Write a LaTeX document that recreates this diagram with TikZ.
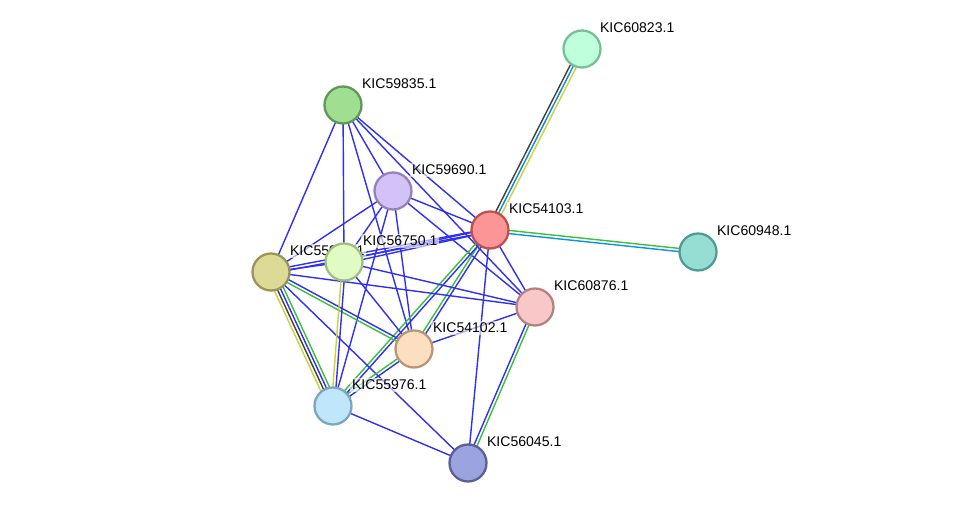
\documentclass[tikz,border=0pt]{standalone}
\usepackage{fontspec}
\setmainfont{Liberation Sans}
\usetikzlibrary{calc,backgrounds}
\definecolor{eblue}{RGB}{48,48,240}
\definecolor{egreen}{RGB}{60,190,60}
\definecolor{eyellow}{RGB}{200,210,60}
\tikzstyle{prot}=[circle,minimum size=0.74cm,inner sep=0pt,line width=1.3pt]
\tikzstyle{annot}=[anchor=south west,inner sep=1pt,fill=white,fill opacity=0.6,text opacity=1,font=\fontsize{8}{9}\selectfont]
\tikzstyle{lnk}=[line width=0.8pt]
\newcommand{\pedge}[3]
{
  % #1,#2 node names, #3 list of offset/colour pairs
  \foreach \o/\c in {#3}
    \draw[lnk,\c] ($(#1)!\o pt!90:(#2)$) -- ($(#2)!\o pt!-90:(#1)$);
}

\begin{document}
\begin{tikzpicture}[x=0.02cm,y=-0.02cm]
	\useasboundingbox (0,0) rectangle (975,509);

	\node[prot, fill={rgb,255:red,192;green,255;blue,220}, draw={rgb,255:red,120;green,190;blue,150}] (p60823) at (582,49){};
	\node[prot, fill={rgb,255:red,160;green,222;blue,146}, draw={rgb,255:red,96;green,150;blue,90}] (p59835) at (343,105){};
	\node[prot, fill={rgb,255:red,210;green,194;blue,248}, draw={rgb,255:red,150;green,130;blue,180}] (p59690) at (393,191){};
	\node[prot, fill={rgb,255:red,252;green,150;blue,150}, draw={rgb,255:red,190;green,80;blue,80}] (p54103) at (490,230){};
	\node[prot, fill={rgb,255:red,150;green,222;blue,212}, draw={rgb,255:red,80;green,155;blue,148}] (p60948) at (698,252){};
	\node[prot, fill={rgb,255:red,220;green,218;blue,150}, draw={rgb,255:red,150;green,150;blue,90}] (p55981) at (271,272){};
	\node[prot, fill={rgb,255:red,224;green,252;blue,196}, draw={rgb,255:red,160;green,190;blue,130}] (p56750) at (344,262){};
	\node[prot, fill={rgb,255:red,248;green,200;blue,200}, draw={rgb,255:red,180;green,130;blue,130}] (p60876) at (535,307){};
	\node[prot, fill={rgb,255:red,252;green,222;blue,192}, draw={rgb,255:red,185;green,150;blue,120}] (p54102) at (414,349){};
	\node[prot, fill={rgb,255:red,192;green,230;blue,252}, draw={rgb,255:red,125;green,165;blue,190}] (p55976) at (333,406){};
	\node[prot, fill={rgb,255:red,156;green,164;blue,224}, draw={rgb,255:red,90;green,95;blue,150}] (p56045) at (468,463){};

	\begin{scope}[on background layer]
	\pedge{p59835}{p55981}{0/eblue}
	\pedge{p59835}{p56750}{0/eblue}
	\pedge{p59835}{p59690}{0/eblue}
	\pedge{p59835}{p54103}{0/eblue}
	\pedge{p59835}{p60876}{0/eblue}
	\pedge{p59835}{p54102}{0/eblue}
	\pedge{p59690}{p55981}{0/eblue}
	\pedge{p59690}{p56750}{0/eblue}
	\pedge{p59690}{p54103}{0/eblue}
	\pedge{p59690}{p60876}{0/eblue}
	\pedge{p59690}{p54102}{0/eblue}
	\pedge{p59690}{p55976}{0/eblue}
	\pedge{p54103}{p55981}{-0.9/eblue,0.9/eblue}
	\pedge{p54103}{p56750}{-0.9/eblue,0.9/eblue}
	\pedge{p54103}{p54102}{-0.9/egreen,0.9/eblue}
	\pedge{p54103}{p55976}{-0.9/egreen,0.9/eblue}
	\pedge{p54103}{p60876}{0/eblue}
	\pedge{p54103}{p56045}{0/eblue}
	\pedge{p54103}{p60823}{-1.8/eyellow,0/cyan!70!blue,1.8/black!75}
	\pedge{p54103}{p60948}{-0.9/cyan!80!blue,0.9/egreen}
	\pedge{p55981}{p56750}{0/eblue}
	\pedge{p55981}{p60876}{0/eblue}
	\pedge{p55981}{p54102}{-0.9/egreen,0.9/eblue}
	\pedge{p55981}{p55976}{-2.7/eyellow,-0.9/black!75,0.9/eblue,2.7/egreen}
	\pedge{p55981}{p56045}{0/eblue}
	\pedge{p56750}{p55976}{-0.9/eyellow,0.9/eblue}
	\pedge{p56750}{p54102}{0/eblue}
	\pedge{p56750}{p60876}{0/eblue}
	\pedge{p54102}{p55976}{-0.9/egreen,0.9/eblue}
	\pedge{p54102}{p60876}{0/eblue}
	\pedge{p60876}{p56045}{-0.9/eblue,0.9/egreen}
	\pedge{p55976}{p56045}{0/eblue}

	\node[annot] at (598,35) {KIC60823.1};
	\node[annot] at (360,91) {KIC59835.1};
	\node[annot] at (410,177) {KIC59690.1};
	\node[annot] at (507,216) {KIC54103.1};
	\node[annot] at (715,238) {KIC60948.1};
	\node[annot] at (288,258) {KIC55981.1};
	\node[annot] at (361,248) {KIC56750.1};
	\node[annot] at (552,293) {KIC60876.1};
	\node[annot] at (431,335) {KIC54102.1};
	\node[annot] at (350,392) {KIC55976.1};
	\node[annot] at (485,449) {KIC56045.1};
	\end{scope}
\end{tikzpicture}
\end{document}
